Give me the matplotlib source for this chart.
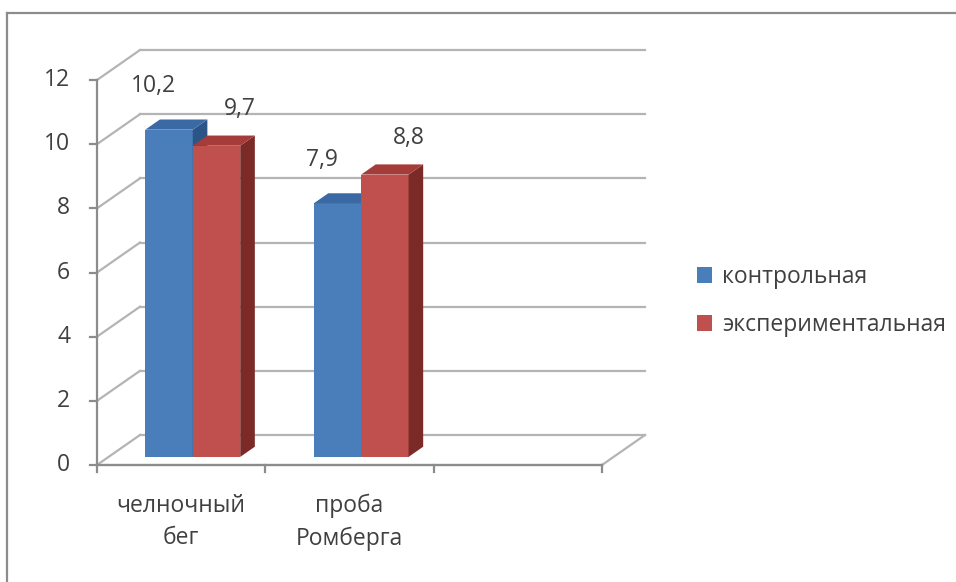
import numpy as np
import matplotlib.pyplot as plt
from matplotlib.patches import Polygon, Patch
from matplotlib.lines import Line2D

plt.rcParams['font.family'] = ['Open Sans', 'DejaVu Sans']

categories = ['челночный\nбег', 'проба\nРомберга', '']
control = [10.2, 7.9]
experimental = [9.7, 8.8]
series_names = ['контрольная', 'экспериментальная']
yticks = [0, 2, 4, 6, 8, 10, 12]

front_cols = ['#4a7ebb', '#c0504d']
top_cols = ['#3a69a3', '#a53c39']
side_cols = ['#2b5587', '#7c2a28']

grid_col = '#b4b4b4'
axis_col = '#8c8c8c'
txt_col = '#404040'
fs = 16.5

# fake 3d: full depth shift in data units (categories, values)
DX = 0.2555
DY = 0.935
D0, D1 = 0.27, 0.61
W = 0.282

fig = plt.figure(figsize=(9.56, 5.82), dpi=100)
ax = fig.add_axes([0, 0, 1, 1])
ax.set_xlim(-0.576, 5.103)
ax.set_ylim(-3.647, 14.495)
ax.axis('off')

ncat = len(categories)

# back wall + side wall grid
for v in yticks:
    ax.plot([DX, ncat + DX], [v + DY, v + DY], color=grid_col, lw=1.6, zorder=1)
    ax.plot([0, DX], [v, v + DY], color=grid_col, lw=1.6, zorder=1)
# floor
ax.plot([0, ncat], [0, 0], color=grid_col, lw=1.6, zorder=1)
ax.plot([ncat, ncat + DX], [0, DY], color=grid_col, lw=1.6, zorder=1)

# value axis
ax.plot([0, 0], [0, yticks[-1]], color=axis_col, lw=1.6, zorder=2)
for v in yticks:
    ax.plot([-0.042, 0], [v, v], color=axis_col, lw=1.6, zorder=2)
    ax.text(-0.16, v, str(v), ha='right', va='center', fontsize=fs, color=txt_col)
ax.plot([0, ncat], [0, 0], color=axis_col, lw=1.6, zorder=2)
for i in range(ncat + 1):
    ax.plot([i, i], [0, -0.22], color=axis_col, lw=1.6, zorder=2)
for i, c in enumerate(categories):
    ax.text(i + 0.5, -1.78, c, ha='center', va='center', fontsize=fs,
            color=txt_col, linespacing=1.45)

# bars
x = np.arange(len(control)) + 0.5
dd = D1 - D0
lab_dx = [-0.024, 0.21]
lab_dy = [1.6, 1.4]
for k, vals in enumerate([control, experimental]):
    pos = x + (k - 0.5) * W
    bc = ax.bar(pos + DX * D0, vals, width=W, bottom=DY * D0, color=front_cols[k])
    for j, r in enumerate(bc.patches):
        r.set_zorder(3 + 2 * j + 0.5 * k - 0.1)
for j in range(len(control)):
    for k, vals in enumerate([control, experimental]):
        v = vals[j]
        xl = x[j] + (k - 1) * W + DX * D0
        xr = xl + W
        base = DY * D0
        top = base + v
        z = 3 + 2 * j + k * 0.5
        side = Polygon([(xr, base), (xr, top), (xr + DX * dd, top + DY * dd),
                        (xr + DX * dd, base + DY * dd)], closed=True,
                       facecolor=side_cols[k], edgecolor='none', zorder=z)
        lid = Polygon([(xl, top), (xr, top), (xr + DX * dd, top + DY * dd),
                       (xl + DX * dd, top + DY * dd)], closed=True,
                      facecolor=top_cols[k], edgecolor='none', zorder=z)
        ax.add_patch(side)
        ax.add_patch(lid)
        ax.text(x[j] + (k - 0.5) * W + lab_dx[k], v + lab_dy[k],
                f'{v:.1f}'.replace('.', ','), ha='center', va='center',
                fontsize=fs, color=txt_col, zorder=10)

handles = [Patch(facecolor=front_cols[k], edgecolor='none', label=series_names[k])
           for k in range(2)]
fig.legend(handles=handles, loc='center left', bbox_to_anchor=(697 / 956, 1 - 301 / 582),
           frameon=False, fontsize=fs, handlelength=0.65, handleheight=0.65,
           handletextpad=0.45, labelspacing=1.05, borderpad=0, borderaxespad=0,
           labelcolor=txt_col)

# outer chart border (cropped)
fig.add_artist(Line2D([7 / 956, 1], [1 - 13 / 582, 1 - 13 / 582], color='#8c8c8c',
                      lw=1.6, transform=fig.transFigure))
fig.add_artist(Line2D([7 / 956, 7 / 956], [0, 1 - 13 / 582], color='#8c8c8c',
                      lw=1.6, transform=fig.transFigure))

fig.savefig('out.png', dpi=100)
